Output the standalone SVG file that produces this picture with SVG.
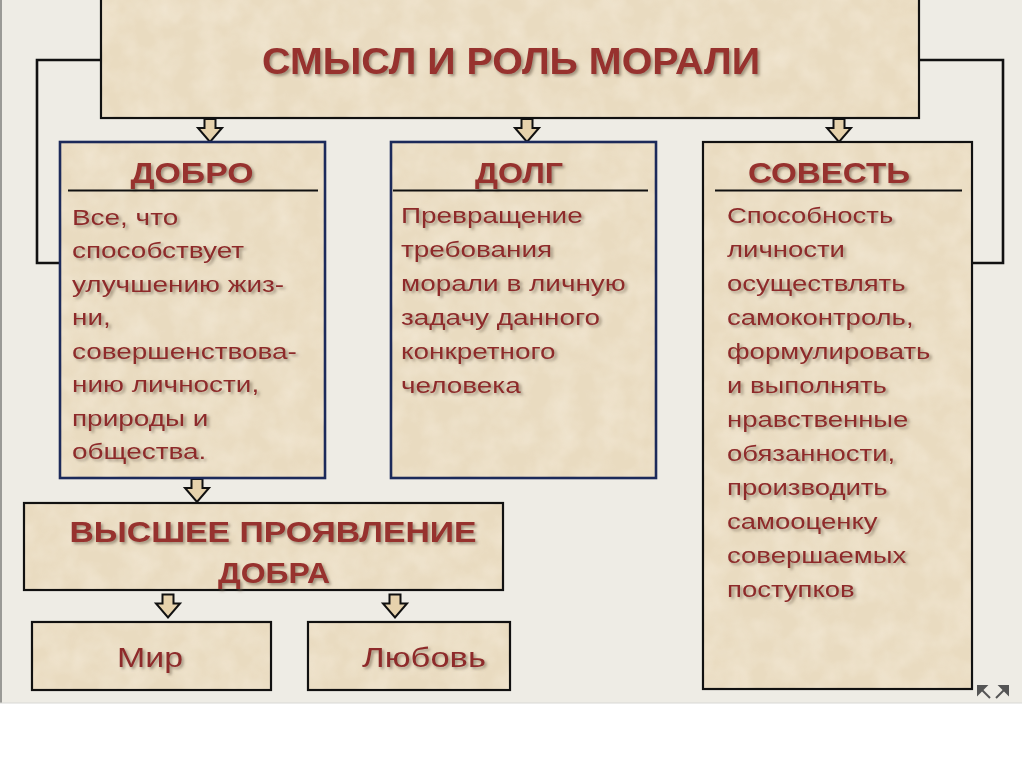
<svg xmlns="http://www.w3.org/2000/svg" width="1024" height="767" viewBox="0 0 1024 767">
<defs>
<filter id="paper" x="0" y="0" width="100%" height="100%">
<feTurbulence type="fractalNoise" baseFrequency="0.04" numOctaves="3" seed="4" result="n"/>
<feColorMatrix in="n" type="matrix" values="0 0 0 0 0.93  0 0 0 0 0.86  0 0 0 0 0.74  0 0 0 -1.6 1.1" result="c"/>
<feComposite in="c" in2="SourceGraphic" operator="in"/>
</filter>
<filter id="sh" x="-5%" y="-20%" width="115%" height="150%">
<feDropShadow dx="2" dy="2" stdDeviation="1.4" flood-color="#6b5a48" flood-opacity="0.6"/>
</filter>
<symbol id="arr" viewBox="0 0 28 26" overflow="visible">
<path d="M8.5 1 H19.5 V10 H26 L14 24 L2 10 H8.5 Z" fill="#e6d2ac" stroke="#111" stroke-width="2" stroke-linejoin="miter"/>
</symbol>
</defs>
<style>
.box{fill:#e9dbc0;stroke:#111;stroke-width:2.2}
.navy{stroke:#1c2a5a;stroke-width:2.6}
.tex{fill:#f3e8d2}
.h{font-family:"Liberation Sans",Arial,sans-serif;font-weight:bold;fill:#97302f;filter:url(#sh)}
.t{font-family:"Liberation Sans",Arial,sans-serif;font-size:22px;fill:#8e2b2b;filter:url(#sh)}
.ul{stroke:#111;stroke-width:2.2}
.ln{fill:none;stroke:#111;stroke-width:2.6}
</style>
<rect x="0" y="0" width="1024" height="767" fill="#ffffff"/>
<rect x="0" y="0" width="1022" height="703" fill="#eeece5"/>
<line x1="1" y1="0" x2="1" y2="703" stroke="#9a9a96" stroke-width="2"/>
<line x1="0" y1="703" x2="1022" y2="703" stroke="#d8d8d4" stroke-width="1"/>

<g id="connectors">
<path class="ln" d="M101 60 H37 V263 H60"/>
<path class="ln" d="M919 60 H1003 V263 H972"/>
<use href="#arr" x="196" y="118" width="28" height="26"/>
<use href="#arr" x="513" y="118" width="28" height="26"/>
<use href="#arr" x="825" y="118" width="28" height="26"/>
<use href="#arr" x="183" y="478" width="28" height="26"/>
<use href="#arr" x="154" y="590" width="28" height="33"/>
<use href="#arr" x="381" y="590" width="28" height="33"/>
</g>

<g id="title">
<rect class="box" x="101" y="-3" width="818" height="121"/>
<rect class="tex" x="102" y="-2" width="816" height="119" filter="url(#paper)" opacity="0.5"/>
<text class="h" x="511" y="74" font-size="37" text-anchor="middle" textLength="498" lengthAdjust="spacingAndGlyphs">СМЫСЛ И РОЛЬ МОРАЛИ</text>
</g>

<g id="dobro">
<rect class="box navy" x="60" y="142" width="265" height="336"/>
<rect class="tex" x="61.5" y="143.5" width="262" height="333" filter="url(#paper)" opacity="0.5"/>
<text class="h" x="192" y="183" font-size="30" text-anchor="middle" textLength="123" lengthAdjust="spacingAndGlyphs">ДОБРО</text>
<line class="ul" x1="68" y1="190.5" x2="318" y2="190.5"/>
<g transform="translate(72 0) scale(1.27 1)">
<text class="t" x="0" y="225">Все, что</text>
<text class="t" x="0" y="258.5">способствует</text>
<text class="t" x="0" y="292">улучшению  жиз-</text>
<text class="t" x="0" y="325.5">ни,</text>
<text class="t" x="0" y="359">совершенствова-</text>
<text class="t" x="0" y="392.5">нию личности,</text>
<text class="t" x="0" y="426">природы и</text>
<text class="t" x="0" y="459.5">общества.</text>
</g>
</g>

<g id="dolg">
<rect class="box navy" x="391" y="142" width="265" height="336"/>
<rect class="tex" x="392.5" y="143.5" width="262" height="333" filter="url(#paper)" opacity="0.5"/>
<text class="h" x="519" y="183" font-size="30" text-anchor="middle" textLength="88" lengthAdjust="spacingAndGlyphs">ДОЛГ</text>
<line class="ul" x1="393" y1="190.5" x2="648" y2="190.5"/>
<g transform="translate(401 0) scale(1.27 1)">
<text class="t" x="0" y="223">Превращение</text>
<text class="t" x="0" y="257">требования</text>
<text class="t" x="0" y="291">морали в личную</text>
<text class="t" x="0" y="325">задачу данного</text>
<text class="t" x="0" y="359">конкретного</text>
<text class="t" x="0" y="393">человека</text>
</g>
</g>

<g id="sovest">
<rect class="box" x="703" y="142" width="269" height="547"/>
<rect class="tex" x="704" y="143" width="267" height="545" filter="url(#paper)" opacity="0.5"/>
<text class="h" x="829" y="183" font-size="30" text-anchor="middle" textLength="162" lengthAdjust="spacingAndGlyphs">СОВЕСТЬ</text>
<line class="ul" x1="715" y1="190.5" x2="962" y2="190.5"/>
<g transform="translate(727 0) scale(1.25 1)">
<text class="t" x="0" y="223">Способность</text>
<text class="t" x="0" y="257">личности</text>
<text class="t" x="0" y="291">осуществлять</text>
<text class="t" x="0" y="325">самоконтроль,</text>
<text class="t" x="0" y="359">формулировать</text>
<text class="t" x="0" y="393">и выполнять</text>
<text class="t" x="0" y="427">нравственные</text>
<text class="t" x="0" y="461">обязанности,</text>
<text class="t" x="0" y="495">производить</text>
<text class="t" x="0" y="529">самооценку</text>
<text class="t" x="0" y="563">совершаемых</text>
<text class="t" x="0" y="597">поступков</text>
</g>
</g>

<g id="vysshee">
<rect class="box" x="24" y="503" width="479" height="87"/>
<rect class="tex" x="25" y="504" width="477" height="85" filter="url(#paper)" opacity="0.5"/>
<text class="h" x="273" y="542" font-size="30" text-anchor="middle" textLength="407" lengthAdjust="spacingAndGlyphs">ВЫСШЕЕ ПРОЯВЛЕНИЕ</text>
<text class="h" x="274" y="583" font-size="30" text-anchor="middle" textLength="112" lengthAdjust="spacingAndGlyphs">ДОБРА</text>
</g>

<g id="mir">
<rect class="box" x="32" y="622" width="239" height="68"/>
<rect class="tex" x="33" y="623" width="237" height="66" filter="url(#paper)" opacity="0.5"/>
<text class="t" x="117" y="667" style="font-size:27px" textLength="66" lengthAdjust="spacingAndGlyphs">Мир</text>
</g>

<g id="lyubov">
<rect class="box" x="308" y="622" width="202" height="68"/>
<rect class="tex" x="309" y="623" width="200" height="66" filter="url(#paper)" opacity="0.5"/>
<text class="t" x="362" y="667" style="font-size:27px" textLength="124" lengthAdjust="spacingAndGlyphs">Любовь</text>
</g>

<g id="expand" fill="#555" stroke="#555" stroke-width="2">
<path d="M978 686 L986 686 L978 694 Z"/>
<line x1="979" y1="687" x2="990" y2="698"/>
<path d="M1008 686 L1000 686 L1008 694 Z"/>
<line x1="1007" y1="687" x2="996" y2="698"/>
</g>
</svg>
